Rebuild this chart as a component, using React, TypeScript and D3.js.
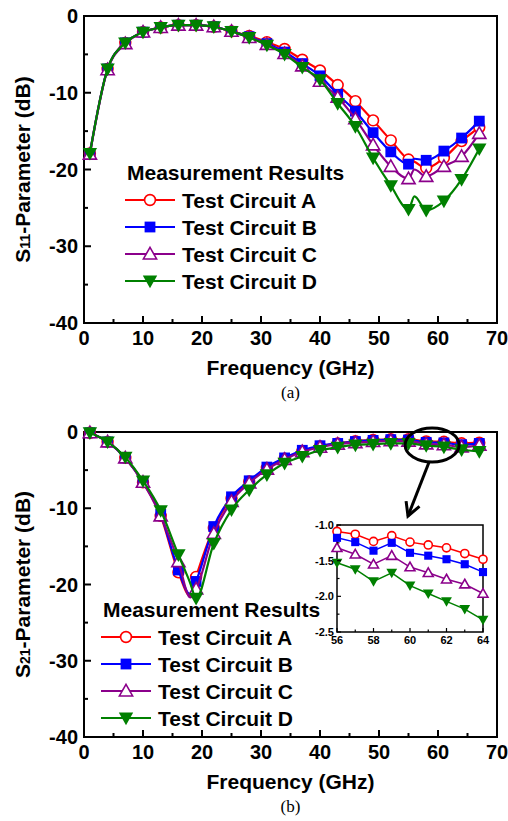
import React from 'react';
import * as d3 from 'd3';

// ---------- data ----------
const SERIES_NAMES = ['Test Circuit A', 'Test Circuit B', 'Test Circuit C', 'Test Circuit D'];
const COLORS = ['#ff0000', '#0000ff', '#8b008b', '#008000'];
const MARKERS = ['circle', 'square', 'triUp', 'triDown'];
const MARKER_FREQ = [1, 4, 7, 10, 13, 16, 19, 22, 25, 28, 31, 34, 37, 40, 43, 46, 49, 52, 55, 58, 61, 64, 67];

// (a) S11
const S11_FREQ = [1, 4, 7, 10, 13, 16, 19, 22, 25, 28, 31, 34, 37, 40, 43, 46, 49, 52, 55, 56, 58, 61, 64, 67];
const S11_A = [-17.9, -6.9, -3.5, -2.1, -1.5, -1.2, -1.2, -1.4, -2.0, -2.6, -3.4, -4.3, -5.7, -7.1, -9.0, -11.1, -13.6, -16.2, -18.7, -19.0, -19.8, -18.5, -16.3, -14.5];
const S11_B = [-17.9, -6.9, -3.5, -2.1, -1.5, -1.2, -1.2, -1.4, -2.0, -2.7, -3.6, -4.7, -6.2, -7.8, -10.2, -12.4, -15.2, -17.7, -19.3, -18.6, -18.8, -17.6, -15.9, -13.7];
const S11_C = [-18.0, -7.0, -3.6, -2.1, -1.5, -1.2, -1.2, -1.4, -2.0, -2.8, -3.7, -4.9, -6.5, -8.5, -10.6, -13.4, -16.8, -19.6, -21.2, -20.0, -20.9, -19.6, -18.3, -15.3];
const S11_D = [-17.9, -6.9, -3.5, -2.1, -1.5, -1.2, -1.2, -1.4, -2.0, -2.8, -3.8, -5.0, -6.7, -8.3, -11.4, -14.4, -18.5, -22.1, -25.2, -23.5, -25.3, -24.1, -21.3, -17.3];

// (b) S21
const S21_FREQ = [1, 4, 7, 10, 13, 16, 18, 19, 22, 25, 28, 31, 34, 37, 40, 43, 46, 49, 52, 55, 58, 61, 64, 67];
const S21_A = [-0.1, -1.3, -3.4, -6.6, -11.0, -18.4, -21.5, -19.0, -12.6, -8.7, -6.5, -4.7, -3.5, -2.5, -1.9, -1.5, -1.2, -1.05, -0.95, -0.95, -1.23, -1.28, -1.48, -1.4];
const S21_B = [-0.1, -1.3, -3.4, -6.6, -10.8, -18.1, -21.3, -19.6, -12.4, -8.5, -6.4, -4.6, -3.4, -2.4, -1.8, -1.5, -1.25, -1.1, -1.0, -1.05, -1.36, -1.43, -1.66, -1.5];
const S21_C = [-0.1, -1.3, -3.4, -6.6, -11.0, -17.0, -21.7, -20.6, -13.3, -9.1, -6.7, -4.9, -3.6, -2.6, -2.0, -1.6, -1.4, -1.25, -1.15, -1.2, -1.56, -1.67, -1.96, -1.75];
const S21_D = [-0.1, -1.3, -3.3, -6.4, -10.3, -16.1, -19.8, -21.8, -14.6, -10.2, -7.6, -5.6, -4.1, -3.2, -2.4, -2.0, -1.7, -1.6, -1.5, -1.5, -1.79, -1.96, -2.33, -2.55];

// inset of (b)
const INSET_FREQ = [56, 57, 58, 59, 60, 61, 62, 63, 64];
const INSET_A = [-1.09, -1.13, -1.23, -1.15, -1.24, -1.28, -1.32, -1.40, -1.48];
const INSET_B = [-1.18, -1.24, -1.36, -1.25, -1.39, -1.43, -1.48, -1.55, -1.66];
const INSET_C = [-1.32, -1.41, -1.55, -1.43, -1.59, -1.67, -1.76, -1.83, -1.96];
const INSET_D = [-1.53, -1.62, -1.79, -1.67, -1.85, -1.96, -2.07, -2.18, -2.33];

const X_TICKS = [0, 10, 20, 30, 40, 50, 60, 70];
const X_MINOR = [5, 15, 25, 35, 45, 55, 65];
const Y_TICKS = [0, -10, -20, -30, -40];
const Y_MINOR = [-5, -15, -25, -35];
const INSET_X_TICKS = [56, 58, 60, 62, 64];
const INSET_X_MINOR = [57, 59, 61, 63];
const INSET_Y_TICKS = [-1.0, -1.5, -2.0, -2.5];
const INSET_Y_MINOR = [-1.25, -1.75, -2.25];

const FONT = '"Liberation Sans", Arial, Helvetica, sans-serif';

function Marker({ type, x, y, color, s }: { type: string; x: number; y: number; color: string; s: number }) {
  if (type === 'circle') {
    return <circle cx={x} cy={y} r={s * 0.45} fill="#fff" stroke={color} strokeWidth={1.6} />;
  }
  if (type === 'square') {
    const h = s * 0.45;
    return <rect x={x - h} y={y - h} width={2 * h} height={2 * h} fill={color} />;
  }
  if (type === 'triUp') {
    const h = s * 0.55;
    const p = `M${x},${y - h}L${x + h},${y + h * 0.75}L${x - h},${y + h * 0.75}Z`;
    return <path d={p} fill="#fff" stroke={color} strokeWidth={1.6} />;
  }
  const h = s * 0.6;
  const p = `M${x},${y + h}L${x + h},${y - h * 0.75}L${x - h},${y - h * 0.75}Z`;
  return <path d={p} fill={color} />;
}

type PanelProps = {
  top: number;
  bottom: number;
  freq: number[];
  series: number[][];
  sub: string;
  legendX: number;
  legendY: number;
  caption: string;
};

const LEFT = 84;
const RIGHT = 497;

function Panel({ top, bottom, freq, series, sub, legendX, legendY, caption }: PanelProps) {
  const x = d3.scaleLinear().domain([0, 70]).range([LEFT, RIGHT]);
  const y = d3.scaleLinear().domain([-40, 0]).range([bottom, top]);
  const line = d3
    .line<[number, number]>()
    .x((d) => x(d[0]))
    .y((d) => y(d[1]))
    .curve(d3.curveMonotoneX);
  const order = [0, 1, 2, 3];
  return (
    <g>
      {/* axes frame */}
      <rect x={LEFT} y={top} width={RIGHT - LEFT} height={bottom - top} fill="none" stroke="#000" strokeWidth={2} />
      {X_TICKS.map((t) => (
        <g key={'xt' + t}>
          <line x1={x(t)} x2={x(t)} y1={bottom} y2={bottom - 7} stroke="#000" strokeWidth={2} />
          <text x={x(t)} y={bottom + 22} textAnchor="middle" fontSize={20} fontWeight="bold" fontFamily={FONT}>
            {t}
          </text>
        </g>
      ))}
      {X_MINOR.map((t) => (
        <line key={'xm' + t} x1={x(t)} x2={x(t)} y1={bottom} y2={bottom - 4} stroke="#000" strokeWidth={2} />
      ))}
      {Y_TICKS.map((t) => (
        <g key={'yt' + t}>
          <line x1={LEFT} x2={LEFT + 7} y1={y(t)} y2={y(t)} stroke="#000" strokeWidth={2} />
          <text x={LEFT - 6} y={y(t) + 7} textAnchor="end" fontSize={20} fontWeight="bold" fontFamily={FONT}>
            {t}
          </text>
        </g>
      ))}
      {Y_MINOR.map((t) => (
        <line key={'ym' + t} x1={LEFT} x2={LEFT + 4} y1={y(t)} y2={y(t)} stroke="#000" strokeWidth={2} />
      ))}
      <text x={(LEFT + RIGHT) / 2} y={bottom + 52} textAnchor="middle" fontSize={21} fontWeight="bold" fontFamily={FONT}>
        Frequency (GHz)
      </text>
      <text
        transform={`translate(30,${(top + bottom) / 2}) rotate(-90)`}
        textAnchor="middle"
        fontSize={21}
        fontWeight="bold"
        fontFamily={FONT}
      >
        S<tspan fontSize={14}>{sub}</tspan>-Parameter (dB)
      </text>
      <text x={(LEFT + RIGHT) / 2} y={bottom + 75} textAnchor="middle" fontSize={17} fontFamily='"Liberation Serif", "Times New Roman", serif'>
        {caption}
      </text>

      {/* data */}
      {order.map((i) => {
        const pts: [number, number][] = freq.map((f, k) => [f, series[i][k]]);
        return (
          <g key={'s' + i}>
            <path d={line(pts) || ''} fill="none" stroke={COLORS[i]} strokeWidth={2.2} />
            {pts
              .filter((p) => MARKER_FREQ.includes(p[0]))
              .map((p, k) => (
                <Marker key={k} type={MARKERS[i]} x={x(p[0])} y={y(p[1])} color={COLORS[i]} s={12} />
              ))}
          </g>
        );
      })}

      {/* legend */}
      <text x={legendX + 2} y={legendY} fontSize={21} fontWeight="bold" fontFamily={FONT}>
        Measurement Results
      </text>
      {SERIES_NAMES.map((name, i) => {
        const ly = legendY + 27 * (i + 1) - 7;
        return (
          <g key={name}>
            <line x1={legendX} x2={legendX + 50} y1={ly} y2={ly} stroke={COLORS[i]} strokeWidth={2.2} />
            <Marker type={MARKERS[i]} x={legendX + 25} y={ly} color={COLORS[i]} s={12} />
            <text x={legendX + 57} y={ly + 8} fontSize={21} fontWeight="bold" fontFamily={FONT}>
              {name}
            </text>
          </g>
        );
      })}
    </g>
  );
}

function Inset() {
  const L = 337, R = 483, T = 525, B = 632;
  const x = d3.scaleLinear().domain([56, 64]).range([L, R]);
  const y = d3.scaleLinear().domain([-2.5, -1.0]).range([B, T]);
  const line = d3.line<[number, number]>().x((d) => x(d[0])).y((d) => y(d[1]));
  const series = [INSET_A, INSET_B, INSET_C, INSET_D];
  return (
    <g>
      <rect x={L} y={T} width={R - L} height={B - T} fill="#fff" stroke="#000" strokeWidth={1.5} />
      {series.map((s, i) => {
        const pts: [number, number][] = INSET_FREQ.map((f, k) => [f, s[k]]);
        return (
          <g key={i}>
            <path d={line(pts) || ''} fill="none" stroke={COLORS[i]} strokeWidth={1.5} />
            {pts.map((p, k) => (
              <Marker key={k} type={MARKERS[i]} x={x(p[0])} y={y(p[1])} color={COLORS[i]} s={9} />
            ))}
          </g>
        );
      })}
      {INSET_X_TICKS.map((t) => (
        <g key={'ixt' + t}>
          <line x1={x(t)} x2={x(t)} y1={B} y2={B - 4} stroke="#000" strokeWidth={1.2} />
          <text x={x(t)} y={B + 12} textAnchor="middle" fontSize={11} fontWeight="bold" fontFamily={FONT}>
            {t}
          </text>
        </g>
      ))}
      {INSET_X_MINOR.map((t) => (
        <line key={'ixm' + t} x1={x(t)} x2={x(t)} y1={B} y2={B - 2.5} stroke="#000" strokeWidth={1.2} />
      ))}
      {INSET_Y_TICKS.map((t) => (
        <g key={'iyt' + t}>
          <line x1={L} x2={L + 4} y1={y(t)} y2={y(t)} stroke="#000" strokeWidth={1.2} />
          <text x={L - 3} y={y(t) + 4} textAnchor="end" fontSize={11} fontWeight="bold" fontFamily={FONT}>
            {t.toFixed(1)}
          </text>
        </g>
      ))}
      {INSET_Y_MINOR.map((t) => (
        <line key={'iym' + t} x1={L} x2={L + 2.5} y1={y(t)} y2={y(t)} stroke="#000" strokeWidth={1.2} />
      ))}
    </g>
  );
}

function Annotation() {
  const x = d3.scaleLinear().domain([0, 70]).range([LEFT, RIGHT]);
  const y = d3.scaleLinear().domain([-40, 0]).range([737, 432]);
  const cx = x(59);
  const cy = y(-1.7);
  const rx = 27;
  const ry = 17;
  const x1 = cx - 3, y1 = cy + ry;
  const x2 = 408, y2 = 516;
  const ang = Math.atan2(y2 - y1, x2 - x1);
  const hl = 15;
  const a1 = ang + Math.PI - 0.5;
  const a2 = ang + Math.PI + 0.5;
  return (
    <g stroke="#000" strokeWidth={3} fill="none">
      <ellipse cx={cx} cy={cy} rx={rx} ry={ry} />
      <line x1={x1} y1={y1} x2={x2} y2={y2} />
      <path
        d={`M${x2 + hl * Math.cos(a1)},${y2 + hl * Math.sin(a1)}L${x2},${y2}L${x2 + hl * Math.cos(a2)},${y2 + hl * Math.sin(a2)}`}
        strokeLinejoin="miter"
      />
    </g>
  );
}

export default function App() {
  return (
    <svg
      width={508}
      height={821}
      viewBox="0 0 508 821"
      style={{ position: 'absolute', left: 0, top: 0, background: '#fff' }}
    >
      <rect width={508} height={821} fill="#fff" />
      <Panel
        top={16}
        bottom={323}
        freq={S11_FREQ}
        series={[S11_A, S11_B, S11_C, S11_D]}
        sub="11"
        legendX={125}
        legendY={180}
        caption="(a)"
      />
      <Panel
        top={432}
        bottom={737}
        freq={S21_FREQ}
        series={[S21_A, S21_B, S21_C, S21_D]}
        sub="21"
        legendX={101}
        legendY={617}
        caption="(b)"
      />
      <Annotation />
      <Inset />
    </svg>
  );
}
